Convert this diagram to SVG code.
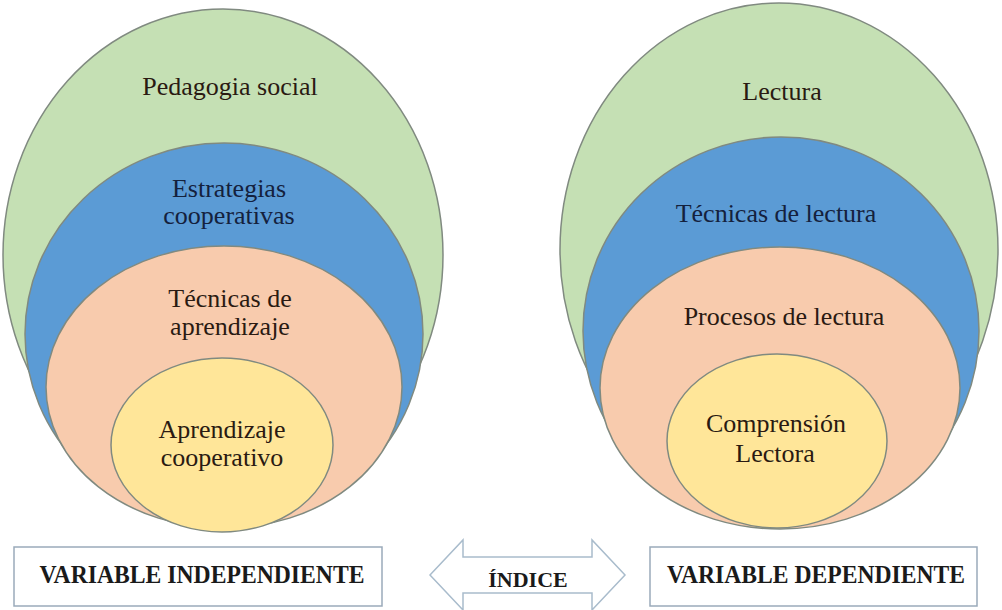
<svg xmlns="http://www.w3.org/2000/svg" width="1002" height="610" viewBox="0 0 1002 610">
  <style>
    .e { stroke: #808a80; stroke-width: 1.5; }
    .g { fill: #c5e0b4; }
    .b { fill: #5b9bd5; }
    .p { fill: #f8cbad; }
    .y { fill: #ffe699; }
    .t { font-family: "Liberation Serif", "Times New Roman", serif; font-size: 26px; fill: #2a1a12; text-anchor: middle; }
    .tb { fill: #14213d; }
    .box { fill: #ffffff; stroke: #9aaaba; stroke-width: 1.5; }
    .lbl { font-family: "Liberation Serif", "Times New Roman", serif; font-weight: bold; fill: #1a1a1a; text-anchor: middle; }
  </style>
  <rect width="1002" height="610" fill="#ffffff"/>

  <g id="left-pedagogia">
    <ellipse class="e g" cx="223" cy="255" rx="220" ry="246"/>
    <text class="t" x="230" y="95">Pedagogia social</text>
  </g>
  <g id="left-estrategias">
    <ellipse class="e b" cx="224" cy="334" rx="199" ry="191"/>
    <text class="t tb" x="229" y="197">Estrategias</text>
    <text class="t tb" x="229" y="224">cooperativas</text>
  </g>
  <g id="left-tecnicas">
    <ellipse class="e p" cx="224" cy="387" rx="178" ry="141"/>
    <text class="t" x="230" y="307">Técnicas de</text>
    <text class="t" x="230" y="335">aprendizaje</text>
  </g>
  <g id="left-aprendizaje">
    <ellipse class="e y" cx="222" cy="445" rx="111" ry="87"/>
    <text class="t" x="222" y="438">Aprendizaje</text>
    <text class="t" x="222" y="466">cooperativo</text>
  </g>

  <g id="right-lectura">
    <ellipse class="e g" cx="779" cy="250" rx="219" ry="247"/>
    <text class="t" x="782" y="100">Lectura</text>
  </g>
  <g id="right-tecnicas">
    <ellipse class="e b" cx="781" cy="331" rx="198" ry="194"/>
    <text class="t tb" x="776" y="222">Técnicas de lectura</text>
  </g>
  <g id="right-procesos">
    <ellipse class="e p" cx="780" cy="388" rx="180" ry="141"/>
    <text class="t" x="784" y="325">Procesos de lectura</text>
  </g>
  <g id="right-comprension">
    <ellipse class="e y" cx="777" cy="441" rx="110" ry="87"/>
    <text class="t" x="776" y="432">Comprensión</text>
    <text class="t" x="775" y="462">Lectora</text>
  </g>

  <g id="box-independiente">
    <rect class="box" x="14" y="547" width="368" height="59"/>
    <text class="lbl" x="202" y="583" font-size="25" textLength="325" lengthAdjust="spacingAndGlyphs">VARIABLE INDEPENDIENTE</text>
  </g>
  <g id="box-dependiente">
    <rect class="box" x="650" y="547" width="327" height="59"/>
    <text class="lbl" x="816" y="583" font-size="25" textLength="298" lengthAdjust="spacingAndGlyphs">VARIABLE DEPENDIENTE</text>
  </g>

  <g id="connectors">
    <g id="arrow-indice">
      <path d="M430,575 L463,540 L463,557 L592,557 L592,540 L625,575 L592,610 L592,593 L463,593 L463,610 Z" fill="#ffffff" stroke="#a9bccc" stroke-width="1.5" stroke-linejoin="miter"/>
      <text class="lbl" x="528" y="587" font-size="22">ÍNDICE</text>
    </g>
  </g>
</svg>
